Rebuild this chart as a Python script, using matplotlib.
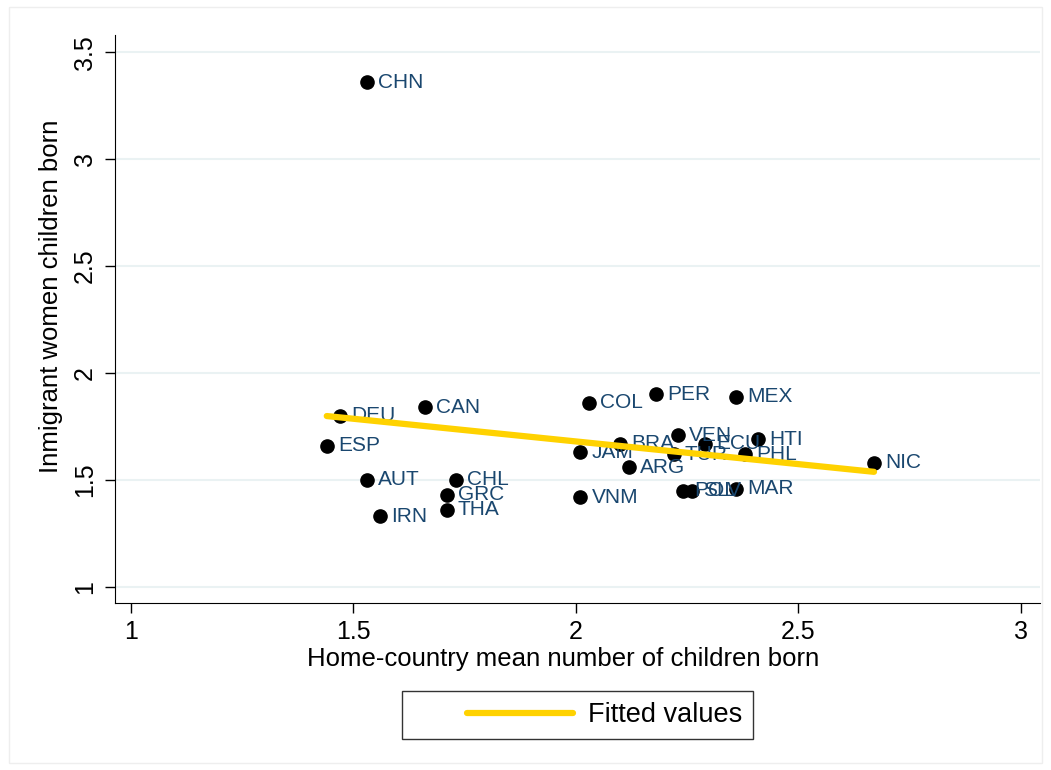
import numpy as np
import matplotlib
matplotlib.use('Agg')
import matplotlib.pyplot as plt
from matplotlib.patches import Rectangle
from matplotlib.legend_handler import HandlerLine2D

plt.rcParams['font.family'] = ['Liberation Sans', 'DejaVu Sans']

# country codes, home-country mean children born, immigrant women children born
countries = ['CHN', 'DEU', 'CAN', 'ESP', 'AUT', 'CHL', 'GRC', 'THA', 'IRN',
             'COL', 'PER', 'MEX', 'JAM', 'BRA', 'ARG', 'VEN', 'TUR', 'ECU',
             'HTI', 'PHL', 'NIC', 'VNM', 'POL', 'SLV', 'MAR']
home_mean = [1.53, 1.47, 1.66, 1.44, 1.53, 1.73, 1.71, 1.71, 1.56,
             2.03, 2.18, 2.36, 2.01, 2.10, 2.12, 2.23, 2.22, 2.29,
             2.41, 2.38, 2.67, 2.01, 2.24, 2.26, 2.36]
immig_mean = [3.36, 1.80, 1.84, 1.66, 1.50, 1.50, 1.43, 1.36, 1.33,
              1.86, 1.90, 1.89, 1.63, 1.67, 1.56, 1.71, 1.62, 1.67,
              1.69, 1.62, 1.58, 1.42, 1.45, 1.45, 1.46]

xticks = [1, 1.5, 2, 2.5, 3]
yticks = [1, 1.5, 2, 2.5, 3, 3.5]

label_color = '#1a476f'
fit_color = '#ffd200'


class KeyHandler(HandlerLine2D):
    # legend key drawn only over the right part of the handle box
    def get_xdata(self, legend, xdescent, ydescent, width, height, fontsize):
        x0 = -xdescent + 0.34 * width
        x1 = -xdescent + width
        xs = np.array([x0, x1])
        return xs, xs


fig = plt.figure(figsize=(10.51, 7.70), dpi=100)
ax = fig.add_axes([0.1094, 0.2169, 0.8801, 0.7376])

# outer graph region border
fig.patches.append(Rectangle((0.009, 0.009), 0.982, 0.982, transform=fig.transFigure,
                             fill=False, edgecolor='#eeeeee', linewidth=1))

for y in yticks:
    ax.axhline(y, color='#eaf2f3', linewidth=1.5, zorder=0)

ax.plot(home_mean, immig_mean, 'o', color='black', markersize=9.5, zorder=3)
for name, x, y in zip(countries, home_mean, immig_mean):
    ax.annotate(name, (x, y), xytext=(8, 0), textcoords='offset points',
                va='center', ha='left', fontsize=15, color=label_color, zorder=4)

# OLS fit over the observed range
b, a = np.polyfit(home_mean, immig_mean, 1)
xs = np.array([min(home_mean), max(home_mean)])
fit_line, = ax.plot(xs, a + b * xs, color=fit_color, linewidth=4.5,
                    solid_capstyle='round', zorder=5, label='Fitted values')

ax.set_xlim(0.964, 3.043)
ax.set_ylim(0.925, 3.58)
ax.set_xticks(xticks)
ax.set_xticklabels(['1', '1.5', '2', '2.5', '3'])
ax.set_yticks(yticks)
ax.set_yticklabels(['1', '1.5', '2', '2.5', '3', '3.5'], rotation=90, va='center')
ax.tick_params(labelsize=18, length=7, width=1, direction='out')
ax.tick_params(axis='x', pad=5)
ax.tick_params(axis='y', pad=6)

ax.spines['top'].set_visible(False)
ax.spines['right'].set_visible(False)

ax.set_xlabel('Home-country mean number of children born', fontsize=18.5)
ax.set_ylabel('Inmigrant women children born', fontsize=18.5)
ax.xaxis.set_label_coords(0.485, -0.078)
ax.yaxis.set_label_coords(-0.056, 0.54)

leg = fig.legend(handles=[fit_line], loc='center', bbox_to_anchor=(0.5495, 0.0714),
                 fontsize=19.5, frameon=True, fancybox=False, edgecolor='black',
                 handlelength=5.9, borderpad=0.42, handletextpad=0.55,
                 borderaxespad=0, handler_map={fit_line: KeyHandler()})
leg.get_frame().set_linewidth(1)

fig.savefig('out.png', dpi=100)
